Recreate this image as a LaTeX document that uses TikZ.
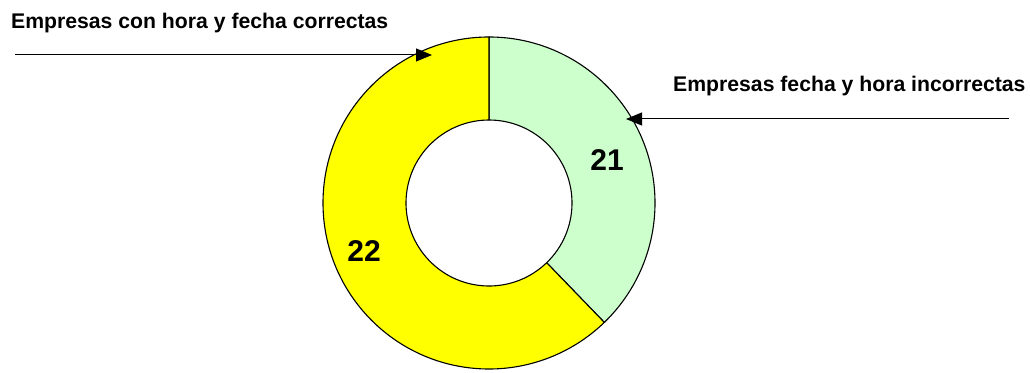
\documentclass[tikz,border=0pt]{standalone}
\usepackage{fontspec}
\setmainfont{Liberation Sans}
\usetikzlibrary{arrows.meta,calc}
\definecolor{lgreen}{HTML}{CCFFCC}
\definecolor{yel}{HTML}{FFFF00}
\begin{document}
\begin{tikzpicture}[x=1pt,y=1pt,
  lbl/.style={font=\bfseries\fontsize{21.2}{23}\selectfont, inner sep=0pt, anchor=base west},
  num/.style={font=\bfseries\fontsize{30}{32}\selectfont, inner sep=0pt, anchor=base},
  ring/.style={draw=black, line width=1.1pt, line join=round},
  pointer/.style={line width=1pt, -{Triangle[length=16pt,width=13pt]}}]
\useasboundingbox (0,0) rectangle (1030,372);
\coordinate (c) at (489,169);
% green slice
\path[ring, fill=lgreen] ($(c)+(90:166)$) arc[start angle=90, end angle=-46, radius=166]
  -- ($(c)+(-46:83)$) arc[start angle=-46, end angle=90, radius=83] -- cycle;
% yellow slice
\path[ring, fill=yel] ($(c)+(90:166)$) arc[start angle=90, end angle=314, radius=166]
  -- ($(c)+(314:83)$) arc[start angle=314, end angle=90, radius=83] -- cycle;
% labels
\node[lbl] (lcorr) at (11,343) {Empresas con hora y fecha correctas};
\node[lbl] (lincorr) at (673,280) {Empresas fecha y hora incorrectas};
\node[num] (n21) at (607,201) {21};
\node[num] (n22) at (364,110) {22};
% arrows
\coordinate (a1s) at (15,317);
\coordinate (a1e) at (432,317);
\coordinate (a2s) at (1009,253);
\coordinate (a2e) at (626,253);
\draw[pointer] (a1s) -- (a1e);
\draw[pointer] (a2s) -- (a2e);
\end{tikzpicture}
\end{document}
